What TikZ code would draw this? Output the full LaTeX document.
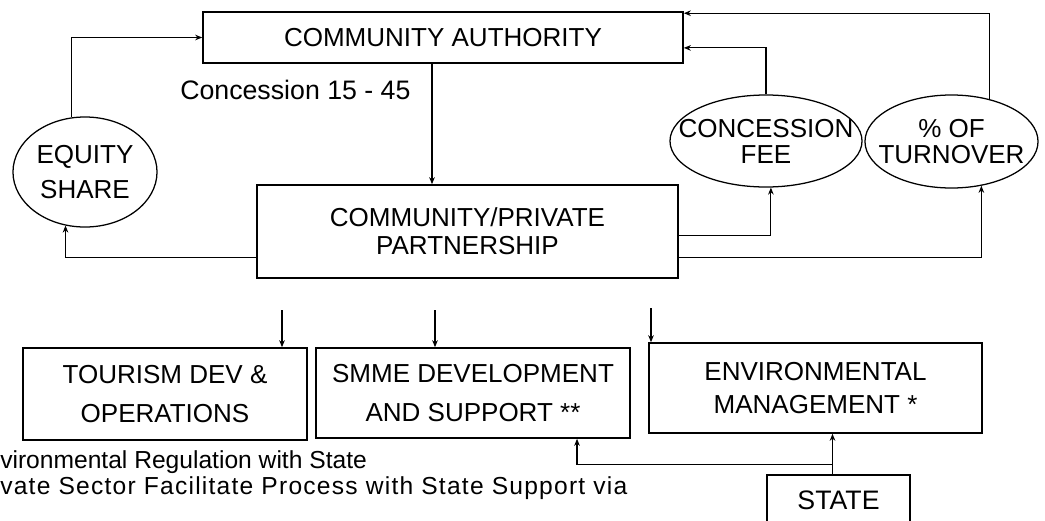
\documentclass[tikz,border=0pt]{standalone}
\usepackage{fontspec}
\setmainfont{Liberation Sans}
\usetikzlibrary{shapes.geometric,arrows.meta}

\begin{document}
\begin{tikzpicture}[x=0.025cm, y=-0.025cm,
Box/.style={draw, line width=1.1pt, align=center, inner sep=0pt},
Oval/.style={draw, ellipse, line width=0.9pt, align=center, inner xsep=-0.5cm, inner ysep=0pt},
BoxText/.style={font=\fontsize{18.5}{#1}\selectfont},
Note/.style={anchor=west, inner sep=0pt, font=\fontsize{17.5}{20}\selectfont},
Flow/.style={-{Stealth[length=5pt,width=4pt]}, line width=0.8pt}]

\useasboundingbox (0,0) rectangle (1045,520);
\clip (0,0) rectangle (1045,520);

\node[Box, BoxText=20, minimum width=12cm, minimum height=1.275cm] (ca) at (443,37.5) {COMMUNITY AUTHORITY};
\node[Box, BoxText=20, minimum width=10.525cm, minimum height=2.325cm] (cpp) at (467.5,231.5) {COMMUNITY/PRIVATE\\PARTNERSHIP};

\node[Oval, BoxText=25, minimum width=3.6cm, minimum height=2.75cm] (equity) at (85,172) {EQUITY\\SHARE};
\node[Oval, BoxText=18.5, minimum width=4.8cm, minimum height=2.3cm] (fee) at (766,141) {CONCESSION\\FEE};
\node[Oval, BoxText=18.5, minimum width=4.325cm, minimum height=2.325cm] (turnover) at (951.5,141.5) {\% OF\\TURNOVER};

\node[Note, font=\fontsize{19}{20}\selectfont] (term) at (180,90) {Concession 15 - 45};

\node[Box, BoxText=27.7, minimum width=7.1cm, minimum height=2.3cm] (tourism) at (165,394) {TOURISM DEV \&\\OPERATIONS};
\node[Box, BoxText=27.7, minimum width=7.85cm, minimum height=2.25cm] (smme) at (473,393) {SMME DEVELOPMENT\\AND SUPPORT **};
\node[Box, BoxText=23.5, minimum width=8.325cm, minimum height=2.25cm] (env) at (815.5,388) {ENVIRONMENTAL\\MANAGEMENT *};
\node[Box, font=\fontsize{19}{20}\selectfont, minimum width=3.575cm, minimum height=1.25cm] (state) at (838.5,500) {STATE};

\node[Note] (note1) at (0,462) {vironmental Regulation with State};
\node[Note] (note2) at (0,488) {\addfontfeature{LetterSpace=5}vate Sector Facilitate Process with State Support via};

\coordinate (d1) at (282,310);
\coordinate (d2) at (435,310);
\coordinate (d3) at (651,308);

\draw[Flow] (equity.104) |- (ca.west);
\draw[Flow] ([yshift=-0.64cm]cpp.west) -| (equity.250);
\draw[Flow] ([xshift=-0.275cm]ca.south) -- ([xshift=-0.275cm]ca.south |- cpp.north);
\draw[Flow] (fee.north) |- ([yshift=-0.26cm]ca.east);
\draw[Flow] (turnover.48) |- ([yshift=-0.05cm]ca.north east);
\draw[Flow] ([yshift=-0.09cm]cpp.east) -| (fee.-84);
\draw[Flow] ([yshift=-0.64cm]cpp.east) -| (turnover.-56);

\draw[Flow] (d1) -- (d1 |- tourism.north);
\draw[Flow] (d2) -- (d2 |- smme.north);
\draw[Flow] (d3) -- (d3 |- env.north);

\draw[Flow] ([xshift=-0.15cm]state.north) -- ([xshift=-0.15cm]state.north |- env.south);
\draw[Flow] ([xshift=-0.15cm, yshift=0.25cm]state.north) -| ([xshift=2.6cm]smme.south);

\end{tikzpicture}
\end{document}
